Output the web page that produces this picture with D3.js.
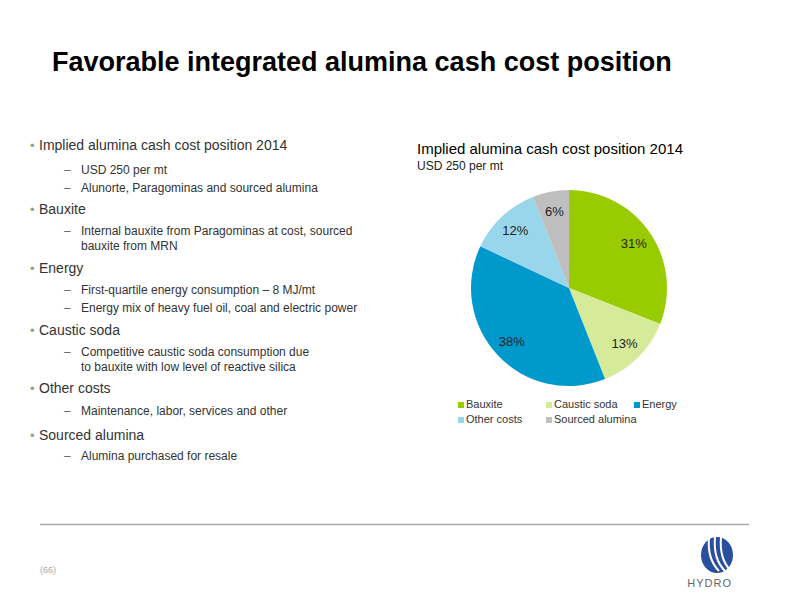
<!DOCTYPE html>
<html><head><meta charset="utf-8">
<script src="https://cdn.jsdelivr.net/npm/d3@7"></script>
<style>body{margin:0;background:#fff}svg{font-family:"Liberation Sans",Arial,sans-serif}</style>
</head><body><svg id="c" width="800" height="600"></svg>
<script>
// pie data
var categories = ["Bauxite", "Caustic soda", "Energy", "Other costs", "Sourced alumina"];
var shares = [31, 13, 38, 12, 6];
var colors = ["#99cc00", "#d6eb99", "#0099cc", "#99d6eb", "#bfbfbf"];

// bullet text, level 0 = main, 1 = sub
var bullets = [
  [0, "Implied alumina cash cost position 2014"],
  [1, "USD 250 per mt"],
  [1, "Alunorte, Paragominas and sourced alumina"],
  [0, "Bauxite"],
  [1, "Internal bauxite from Paragominas at cost, sourced", "bauxite from MRN"],
  [0, "Energy"],
  [1, "First-quartile energy consumption – 8 MJ/mt"],
  [1, "Energy mix of heavy fuel oil, coal and electric power"],
  [0, "Caustic soda"],
  [1, "Competitive caustic soda consumption due", "to bauxite with low level of reactive silica"],
  [0, "Other costs"],
  [1, "Maintenance, labor, services and other"],
  [0, "Sourced alumina"],
  [1, "Alumina purchased for resale"]
];
var bulletY = [150, 174, 192, 214, 235, 273, 294, 312, 335, 356, 393, 415, 440, 460];

var svg = d3.select("#c");

svg.append("text").attr("x", 52).attr("y", 71).attr("font-size", 27).attr("font-weight", "bold")
  .attr("fill", "#000").text("Favorable integrated alumina cash cost position");

bullets.forEach(function(b, i) {
  var y = bulletY[i];
  if (b[0] === 0) {
    svg.append("text").attr("x", 30).attr("y", y).attr("font-size", 13).attr("fill", "#999").text("•");
    svg.append("text").attr("x", 39).attr("y", y).attr("font-size", 14).attr("fill", "#333").text(b[1]);
  } else {
    svg.append("text").attr("x", 64).attr("y", y).attr("font-size", 12).attr("fill", "#666").text("–");
    b.slice(1).forEach(function(line, j) {
      svg.append("text").attr("x", 81).attr("y", y + j * 15).attr("font-size", 12).attr("fill", "#333").text(line);
    });
  }
});

// chart titles
svg.append("text").attr("x", 417).attr("y", 154).attr("font-size", 15).attr("fill", "#000")
  .text("Implied alumina cash cost position 2014");
svg.append("text").attr("x", 417).attr("y", 170).attr("font-size", 12).attr("fill", "#222").text("USD 250 per mt");

var cx = 569, cy = 288, r = 98;
var pie = d3.pie().sort(null).value(function(d){return d;});
var arc = d3.arc().innerRadius(0).outerRadius(r);
var labelArc = d3.arc().innerRadius(r * 0.8).outerRadius(r * 0.8);
var g = svg.append("g").attr("transform", "translate(" + cx + "," + cy + ")");
var arcs = pie(shares);
g.selectAll("path").data(arcs).enter().append("path")
  .attr("d", arc).attr("fill", function(d, i){return colors[i];});
g.selectAll("text").data(arcs).enter().append("text")
  .attr("transform", function(d){return "translate(" + labelArc.centroid(d) + ")";})
  .attr("text-anchor", "middle").attr("dy", "0.35em").attr("font-size", 13).attr("fill", "#222")
  .text(function(d){return d.data + "%";});

// legend
var legX = [458, 546, 634, 458, 546], legY = [406, 406, 406, 421, 421];
categories.forEach(function(c, i) {
  svg.append("rect").attr("x", legX[i]).attr("y", legY[i] - 4).attr("width", 6).attr("height", 6).attr("fill", colors[i]);
  svg.append("text").attr("x", legX[i] + 8).attr("y", legY[i] + 2).attr("font-size", 11).attr("fill", "#333").text(c);
});

// footer
svg.append("line").attr("x1", 40).attr("x2", 749).attr("y1", 524.5).attr("y2", 524.5).attr("stroke", "#aaa").attr("stroke-width", 1.5);
svg.append("text").attr("x", 40).attr("y", 573).attr("font-size", 9).attr("fill", "#aaa").text("(66)");
// logo
var lg = svg.append("g").attr("transform", "translate(717,555)");
lg.append("ellipse").attr("rx", 16).attr("ry", 18).attr("fill", "#2a4f9e");
[-8, -2, 4].forEach(function(x) {
  lg.append("path").attr("d", "M" + x + ",-18 Q" + (x - 2) + ",4 " + (x + 10) + ",16").attr("stroke", "#fff").attr("stroke-width", 2).attr("fill", "none");
});
svg.append("text").attr("x", 732).attr("y", 587).attr("text-anchor", "end").attr("font-size", 11)
  .attr("fill", "#666").attr("letter-spacing", 1).text("HYDRO");
</script></body></html>
